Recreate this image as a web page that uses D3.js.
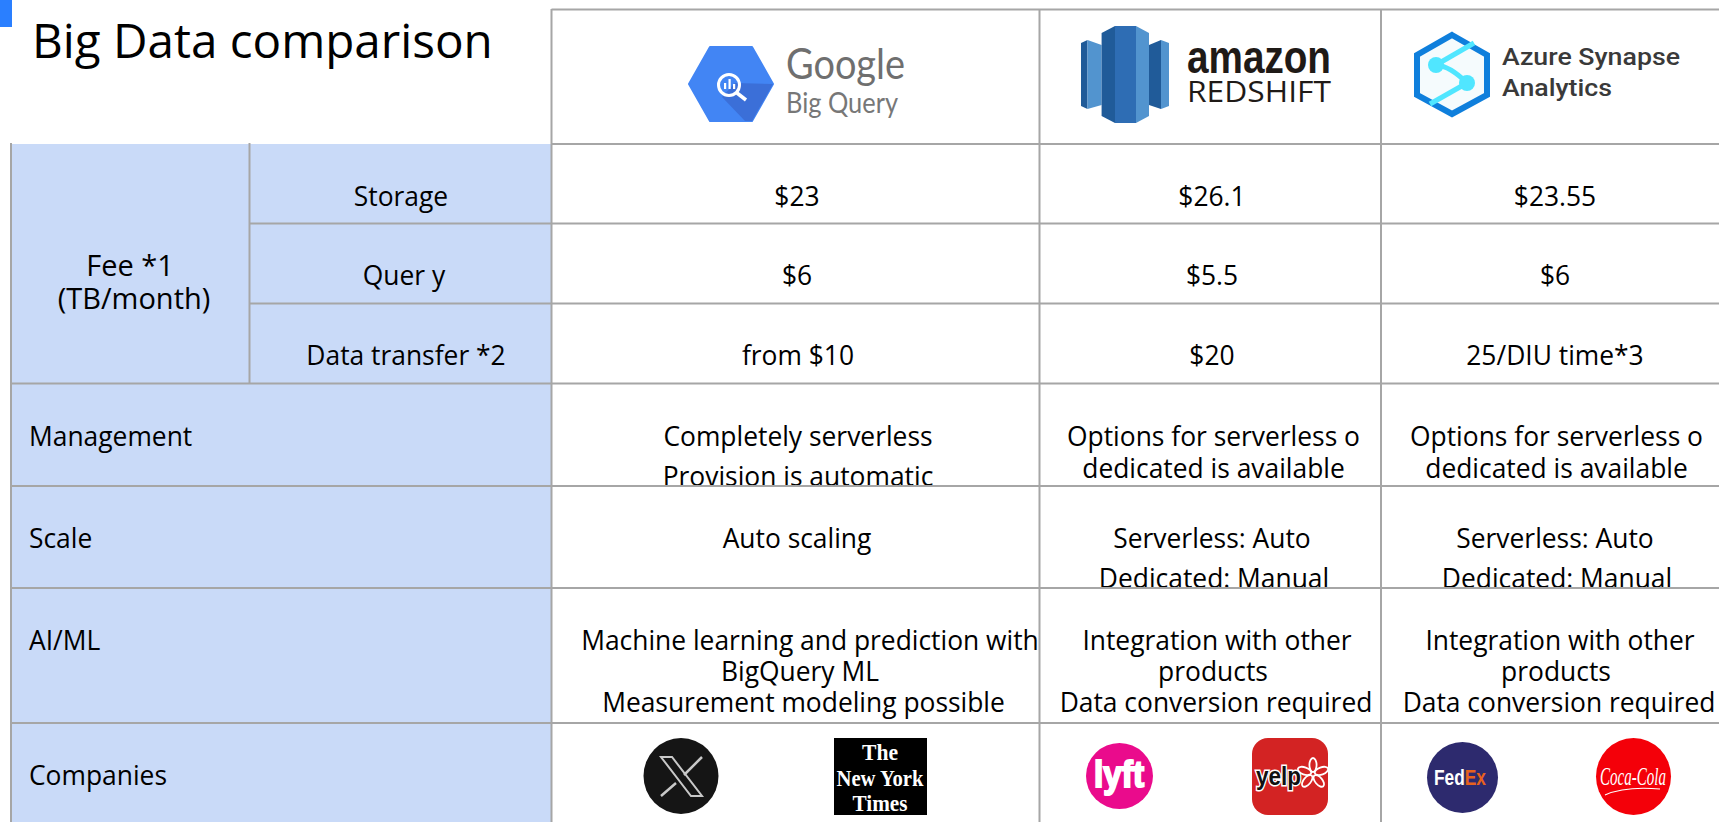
<!DOCTYPE html>
<html>
<head>
<meta charset="utf-8">
<title>Big Data comparison</title>
<script src="https://cdn.jsdelivr.net/npm/d3@7"></script>
<style>
  html, body { margin: 0; padding: 0; background: #fff; overflow: hidden; }
  svg { display: block; }
  text { font-family: "Open Sans", sans-serif; fill: #000; white-space: pre; }
</style>
</head>
<body>
<div id="chart"></div>
<script>
// Table content
const products = ["BigQuery", "Redshift", "Synapse"];
const rowNames = ["Storage", "Quer y", "Data transfer *2", "Management", "Scale", "AI/ML", "Companies"];
const feeLabel = ["Fee *1", "(TB/month)"];

const storageFees = ["$23", "$26.1", "$23.55"];
const queryFees = ["$6", "$5.5", "$6"];
const transferFees = ["from $10", "$20", "25/DIU time*3"];
const management = [
    ["Completely serverless", "Provision is automatic"],
    ["Options for serverless o", "dedicated is available"],
    ["Options for serverless o", "dedicated is available"],
];
const scaling = [
    ["Auto scaling"],
    ["Serverless: Auto", "Dedicated: Manual"],
    ["Serverless: Auto", "Dedicated: Manual"],
];
const aiMl = [
    ["Machine learning and prediction with", "BigQuery ML", "Measurement modeling possible"],
    ["Integration with other", "products", "Data conversion required"],
    ["Integration with other", "products", "Data conversion required"],
];
const cellText = [storageFees, queryFees, transferFees, management, scaling, aiMl];

// Grid geometry
const width = 1719;
const height = 822;
const gridColor = "#a6a6a6";
const headerFill = "#c9daf8";
const fontSize = 26.4;
const colLeft = d3.scaleOrdinal().domain(products).range([551.5, 1039.5, 1381]);
const colCenter = d3.scaleOrdinal().domain(products).range([797, 1212, 1555]);
const rowTop = d3.scaleOrdinal().domain(rowNames).range([144, 223.5, 303.5, 383.5, 486, 588, 723]);
const rowBottom = d3.scaleOrdinal().domain(rowNames).range([223.5, 303.5, 383.5, 486, 588, 723, 822]);
const baseline = d3.scaleOrdinal().domain(rowNames).range([206, 285, 365, 446, 548, 650, 785]);

// Gap between the lines of a cell, per row and product
const lineGap = { "Management": [40, 32, 32], "Scale": [40, 40, 40], "AI/ML": [31, 31, 31] };
// Some wrapped lines sit off centre in the original
const lineShift = {
    "Machine learning and prediction with": 13, "BigQuery ML": 3, "Measurement modeling possible": 6.5,
    "Integration with other": 5, "products": 1, "Data conversion required": 4,
    "Options for serverless o": 1.5, "dedicated is available": 1.5, "Dedicated: Manual": 2,
    "Completely serverless": 1, "Provision is automatic": 1, "from $10": 1,
    "Quer y": 3, "Data transfer *2": 5, "Fee *1": -4,
};

const svg = d3.select("#chart").append("svg").attr("width", width).attr("height", height);

// Blue marker in the corner and title
svg.append("rect").attr("x", 0).attr("y", 0).attr("width", 12).attr("height", 27).attr("fill", "#2a7fff");
svg.append("text").attr("x", 32).attr("y", 58).attr("font-size", 47.6).text("Big Data comparison");

// Header column background
svg.append("rect").attr("x", 11).attr("y", 144).attr("width", 540.5).attr("height", height - 144).attr("fill", headerFill);

// One clip per body row, the text is cut by the line below it
const defs = svg.append("defs");
rowNames.forEach((row, i) => {
    defs.append("clipPath").attr("id", "row-clip-" + i)
        .append("rect")
        .attr("x", 0).attr("y", rowTop(row))
        .attr("width", width).attr("height", rowBottom(row) - rowTop(row));
});

// Body text
rowNames.slice(0, 6).forEach((row, r) => {
    const g = svg.append("g").attr("clip-path", `url(#row-clip-${r})`);
    products.forEach((p, c) => {
        const cell = cellText[r][c];
        const lines = Array.isArray(cell) ? cell : [cell];
        g.selectAll(null)
            .data(lines)
            .enter()
            .append("text")
            .attr("x", d => colCenter(p) + (lineShift[d] || 0))
            .attr("y", (d, i) => baseline(row) + i * (lineGap[row] ? lineGap[row][c] : 0))
            .attr("text-anchor", "middle")
            .attr("font-size", fontSize)
            .text(d => d);
    });
});

// Row labels
svg.selectAll("text.fee-row")
    .data(rowNames.slice(0, 3))
    .enter()
    .append("text")
    .attr("class", "fee-row")
    .attr("x", d => 401 + (lineShift[d] || 0))
    .attr("y", d => baseline(d))
    .attr("text-anchor", "middle")
    .attr("font-size", fontSize)
    .text(d => d);
svg.selectAll("text.fee-label")
    .data(feeLabel)
    .enter()
    .append("text")
    .attr("class", "fee-label")
    .attr("x", d => 134 + (lineShift[d] || 0))
    .attr("y", (d, i) => 276 + i * 33)
    .attr("text-anchor", "middle")
    .attr("font-size", 29)
    .text(d => d);
svg.selectAll("text.row-label")
    .data(rowNames.slice(3))
    .enter()
    .append("text")
    .attr("class", "row-label")
    .attr("x", 29)
    .attr("y", d => baseline(d))
    .attr("font-size", fontSize)
    .text(d => d);

// Grid lines
const grid = svg.append("g").attr("stroke", gridColor).attr("stroke-width", 2);
rowNames.slice(1).forEach(row => {
    const i = rowNames.indexOf(row);
    grid.append("line").attr("x1", i < 3 ? 249.5 : 11).attr("x2", width).attr("y1", rowTop(row)).attr("y2", rowTop(row));
});
grid.append("line").attr("x1", 551.5).attr("x2", width).attr("y1", 144).attr("y2", 144);
grid.append("line").attr("x1", 551.5).attr("x2", width).attr("y1", 9.5).attr("y2", 9.5);
grid.append("line").attr("x1", 11).attr("x2", 11).attr("y1", 143).attr("y2", height);
grid.append("line").attr("x1", 249.5).attr("x2", 249.5).attr("y1", 143).attr("y2", 383.5);
products.forEach(p => {
    grid.append("line").attr("x1", colLeft(p)).attr("x2", colLeft(p)).attr("y1", 9).attr("y2", height);
});

// Logos
const logos = svg.append("g");

function poly(parent, points, fill) {
    return parent.append("polygon").attr("points", points.map(p => p.join(",")).join(" ")).attr("fill", fill);
}

function logoText(parent, x, y, size, str, fill, opts = {}) {
    const t = parent.append("text").attr("x", x).attr("y", y).attr("font-size", size).text(str)
        .style("fill", fill).style("font-family", opts.font || "Roboto")
        .style("font-weight", opts.weight || 400).style("font-style", opts.italic ? "italic" : "normal");
    if (opts.anchor) t.attr("text-anchor", opts.anchor);
    if (opts.len) t.attr("textLength", opts.len).attr("lengthAdjust", "spacingAndGlyphs");
    return t;
}

function drawBigQuery(g) {
    poly(g, [[710, 47], [752, 47], [773, 84], [752, 121], [710, 121], [689, 84]], "#4285f4")
        .attr("stroke", "#4285f4").attr("stroke-width", 2).attr("stroke-linejoin", "round");
    poly(g, [[722, 97], [735, 83], [773, 84], [752, 121], [745, 121]], "#3b6fd8");
    g.append("circle").attr("cx", 729).attr("cy", 85).attr("r", 10.5).attr("fill", "none").attr("stroke", "#fff").attr("stroke-width", 3);
    g.append("line").attr("x1", 737).attr("y1", 93).attr("x2", 746).attr("y2", 100).attr("stroke", "#fff").attr("stroke-width", 3.5);
    [[724, 83, 6], [728.5, 79, 10], [733, 84, 5]].forEach(b => {
        g.append("rect").attr("x", b[0]).attr("y", b[1]).attr("width", 2.2).attr("height", b[2]).attr("fill", "#fff");
    });
    logoText(g, 786, 79, 42, "Google", "#6f6f6f", { font: "Lato", len: 119 });
    logoText(g, 786, 113, 28, "Big Query", "#777777", { font: "Lato", len: 112 });
}

function drawRedshift(g) {
    const light = "#5294cf", mid = "#2e6db4", dark = "#205b99";
    poly(g, [[1081, 43], [1087.5, 40], [1087.5, 109], [1081, 106]], dark);
    poly(g, [[1087.5, 40], [1101.6, 45], [1101.6, 105], [1087.5, 109]], light);
    poly(g, [[1101.6, 33], [1115, 26], [1115, 123], [1101.6, 116]], dark);
    g.append("rect").attr("x", 1115).attr("y", 26).attr("width", 21).attr("height", 97).attr("fill", mid);
    poly(g, [[1136, 26], [1149, 33], [1149, 116], [1136, 123]], light);
    poly(g, [[1149, 45], [1161, 40], [1161, 109], [1149, 105]], dark);
    poly(g, [[1161, 40], [1169, 43], [1169, 106], [1161, 109]], light);
    logoText(g, 1187, 73, 47, "amazon", "#1f1a17", { font: "Liberation Sans", weight: 700, len: 144 });
    logoText(g, 1187, 102, 29, "REDSHIFT", "#1f1a17", { font: "Open Sans", len: 144 });
}

function drawSynapse(g) {
    poly(g, [[1452, 35], [1487, 55], [1487, 95], [1452, 114], [1417, 95], [1417, 55]], "#f5fbfd")
        .attr("stroke", "#0f7fdc").attr("stroke-width", 6);
    const cyan = "#50e6ff";
    g.append("path").attr("d", "M1436 65 L1474 43").attr("stroke", cyan).attr("stroke-width", 5);
    g.append("path").attr("d", "M1467 83 L1430 104").attr("stroke", cyan).attr("stroke-width", 5);
    g.append("path").attr("d", "M1436 65 Q1450 66 1467 83").attr("fill", "none").attr("stroke", cyan).attr("stroke-width", 5);
    g.append("circle").attr("cx", 1436).attr("cy", 65).attr("r", 8).attr("fill", cyan);
    g.append("circle").attr("cx", 1467).attr("cy", 83).attr("r", 8).attr("fill", cyan);
    logoText(g, 1502, 65, 24, "Azure Synapse", "#3a3a3a", { weight: 500, len: 178 });
    logoText(g, 1502, 96, 24, "Analytics", "#3a3a3a", { weight: 500, len: 110 });
}

function drawCompanies(g) {
    // X
    g.append("ellipse").attr("cx", 681).attr("cy", 776).attr("rx", 37.5).attr("ry", 38).attr("fill", "#151515");
    g.append("path").attr("d", "M661 757 L672 757 L702 796 L691 796 Z").attr("fill", "none").attr("stroke", "#c8c8c8").attr("stroke-width", 2);
    g.append("path").attr("d", "M702 757 L684 775 M676 783 L661 796").attr("stroke", "#c8c8c8").attr("stroke-width", 2.5);

    // New York Times
    g.append("rect").attr("x", 834).attr("y", 738).attr("width", 93).attr("height", 77).attr("fill", "#000");
    logoText(g, 880, 760, 24, "The", "#fff", { font: "Liberation Serif", weight: 700, anchor: "middle", len: 36 });
    logoText(g, 880, 786, 24, "New York", "#fff", { font: "Liberation Serif", weight: 700, anchor: "middle", len: 87 });
    logoText(g, 880, 811, 24, "Times", "#fff", { font: "Liberation Serif", weight: 700, anchor: "middle", len: 55 });

    // Lyft
    g.append("ellipse").attr("cx", 1119.5).attr("cy", 776).attr("rx", 33.5).attr("ry", 33).attr("fill", "#ea0b8c");
    logoText(g, 1119, 787, 36, "lyft", "#fff", { font: "Liberation Sans", weight: 700, anchor: "middle", len: 50 })
        .style("stroke", "#fff").style("stroke-width", 2);

    // Yelp
    g.append("rect").attr("x", 1252).attr("y", 738).attr("width", 76).attr("height", 77).attr("rx", 16).attr("fill", "#d32323");
    logoText(g, 1256, 785, 26, "yelp", "#111", { font: "Liberation Sans", weight: 700, len: 45 })
        .style("stroke", "#fff").style("stroke-width", 3).style("paint-order", "stroke");
    [-90, -20, 50, 130, 200].forEach(a => {
        const px = 1313 + 9 * Math.cos(a * Math.PI / 180);
        const py = 774 + 9 * Math.sin(a * Math.PI / 180);
        g.append("ellipse")
            .attr("cx", px).attr("cy", py)
            .attr("rx", 7).attr("ry", 3.6)
            .attr("transform", `rotate(${a} ${px} ${py})`)
            .attr("fill", "#d32323").attr("stroke", "#fff").attr("stroke-width", 1.8);
    });

    // FedEx
    g.append("ellipse").attr("cx", 1462.5).attr("cy", 777.5).attr("rx", 35.5).attr("ry", 35.5).attr("fill", "#2d2a6e");
    const fed = logoText(g, 1434, 785, 22, "Fed", "#fff", { font: "Liberation Sans", weight: 700 });
    fed.append("tspan").text("Ex").style("fill", "#e8621d");
    fed.attr("textLength", 52).attr("lengthAdjust", "spacingAndGlyphs");

    // Coca-Cola
    g.append("ellipse").attr("cx", 1633.5).attr("cy", 776.5).attr("rx", 37.5).attr("ry", 38.5).attr("fill", "#f40009");
    logoText(g, 1633, 785, 26, "Coca-Cola", "#fff", { font: "Liberation Serif", italic: true, anchor: "middle", len: 66 });
    g.append("path").attr("d", "M1605 795 Q1625 786 1660 789").attr("fill", "none").attr("stroke", "#fff").attr("stroke-width", 1.2);
}

drawBigQuery(logos.append("g"));
drawRedshift(logos.append("g"));
drawSynapse(logos.append("g"));
drawCompanies(logos.append("g"));
</script>
</body>
</html>
